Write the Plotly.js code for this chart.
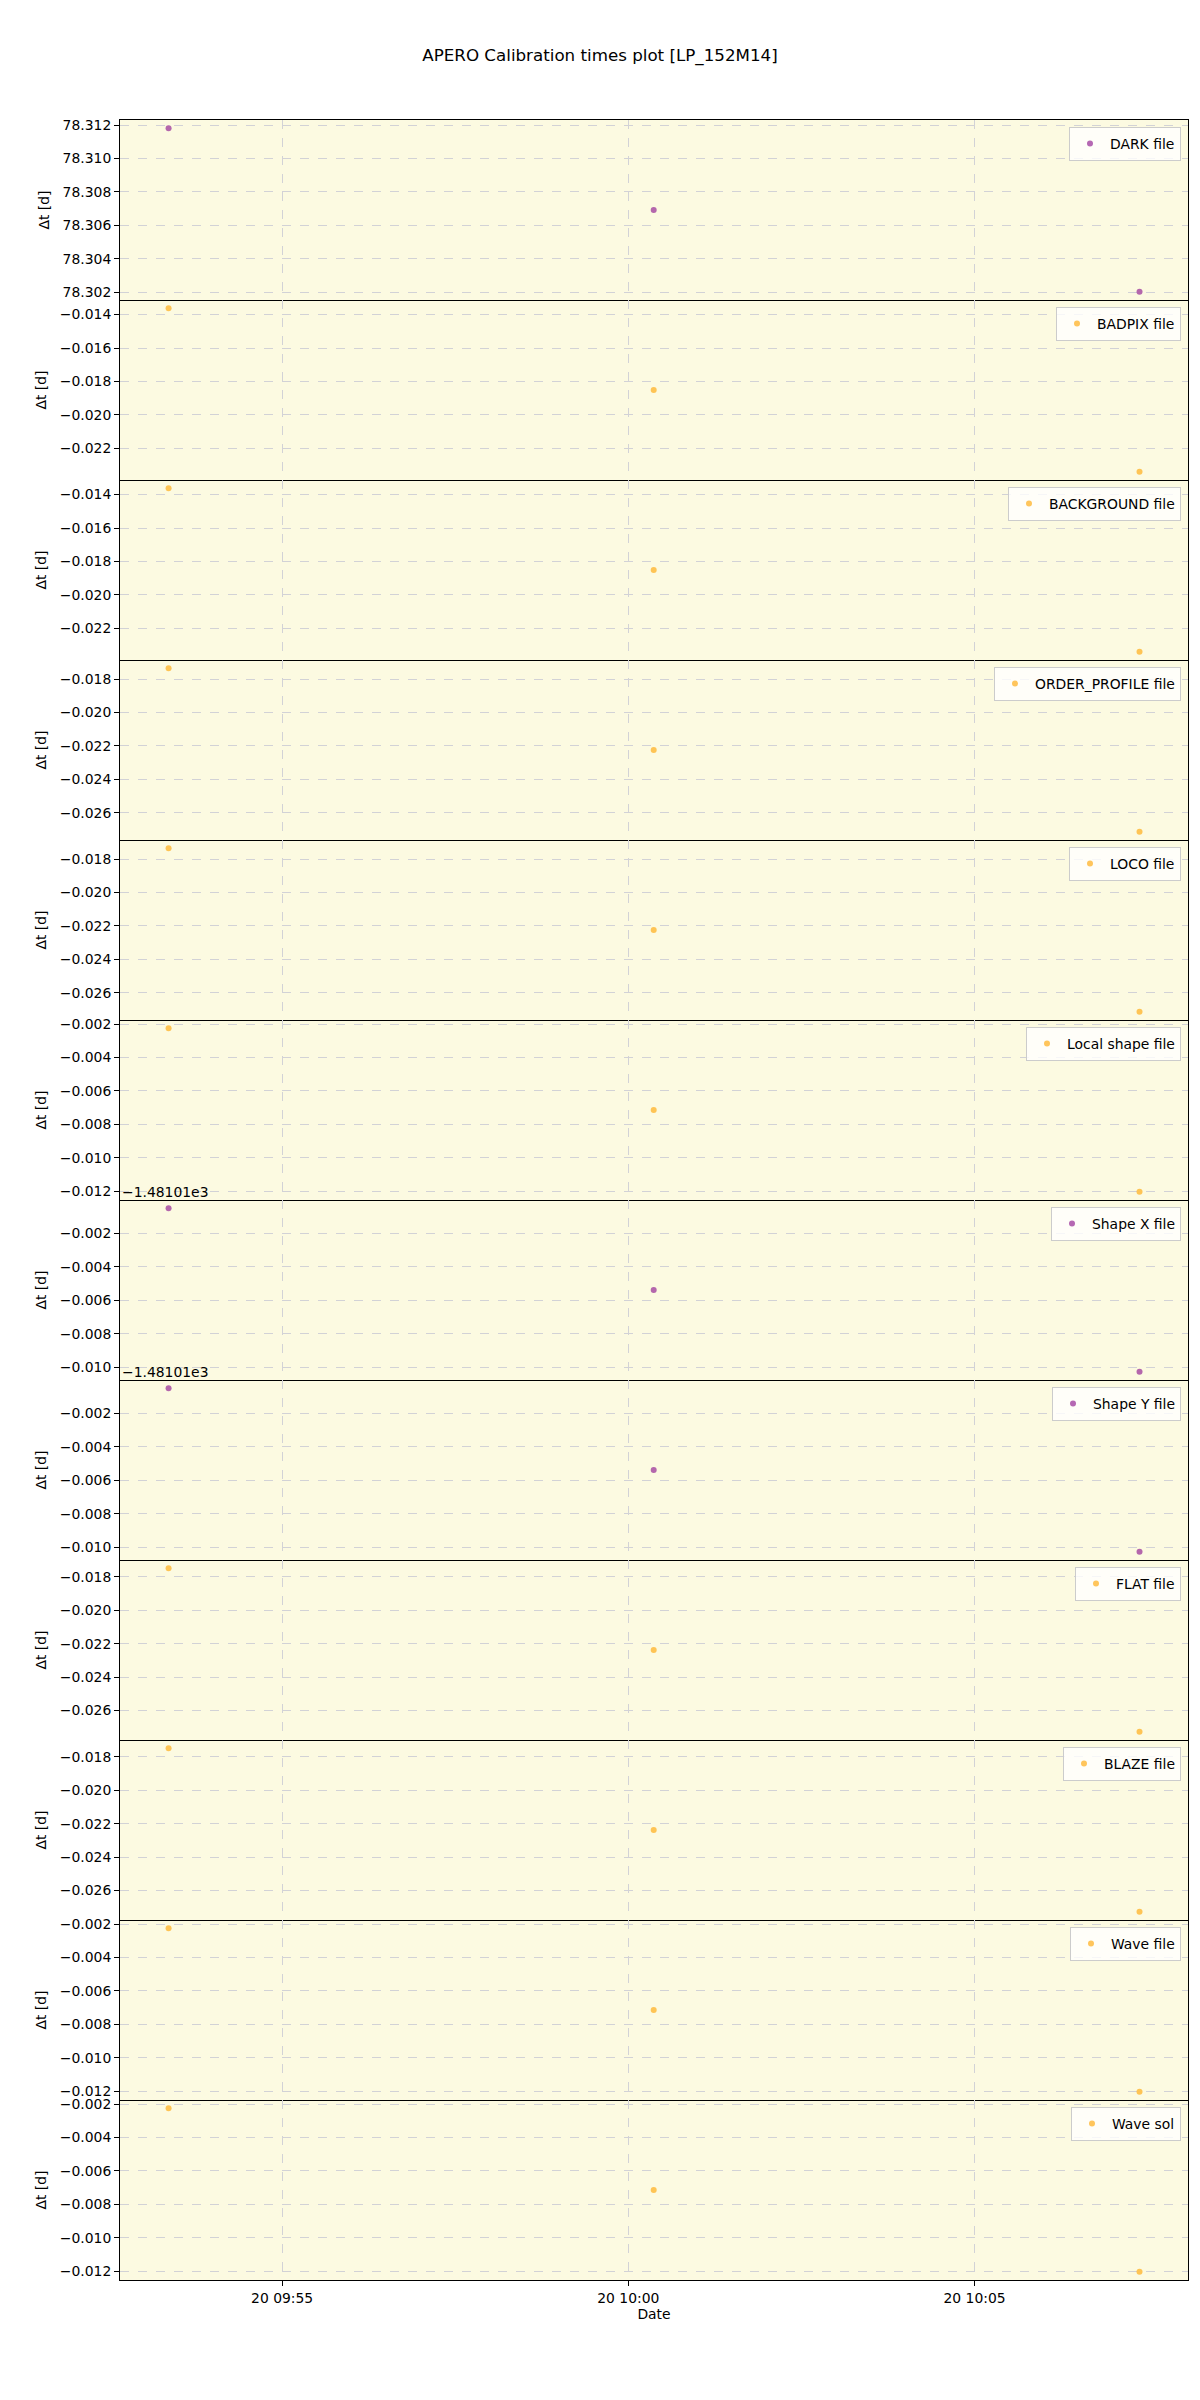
<!DOCTYPE html>
<html>
<head>
<meta charset="utf-8">
<script src="https://cdn.plot.ly/plotly-3.0.1.min.js"></script>
<style>html,body{margin:0;padding:0;background:#fff;}</style>
</head>
<body>
<div id="chart" style="width:1200px;height:2400px;"></div>
<script>
// ---- data ----
const times = ['2021-05-20 09:53:21.6', '2021-05-20 10:00:22', '2021-05-20 10:07:23'];
const seriesNames = ['DARK file', 'BADPIX file', 'BACKGROUND file', 'ORDER_PROFILE file', 'LOCO file',
  'Local shape file', 'Shape X file', 'Shape Y file', 'FLAT file', 'BLAZE file', 'Wave file', 'Wave sol'];
const darkFile = [78.31181, 78.30692, 78.30203];
const badpixFile = [-0.01362, -0.01851, -0.0234];
const backgroundFile = [-0.01362, -0.01851, -0.0234];
const orderProfileFile = [-0.01735, -0.02224, -0.02713];
const locoFile = [-0.01735, -0.02224, -0.02713];
const localShapeFile = [-0.00225, -0.00714, -0.01203];
const shapeXFile = [-1481.0105, -1481.01539, -1481.02028];
const shapeYFile = [-1481.0105, -1481.01539, -1481.02028];
const flatFile = [-0.01749, -0.02238, -0.02727];
const blazeFile = [-0.01749, -0.02238, -0.02727];
const waveFile = [-0.00225, -0.00714, -0.01203];
const waveSol = [-0.00225, -0.00714, -0.01203];
const seriesValues = [darkFile, badpixFile, backgroundFile, orderProfileFile, locoFile, localShapeFile,
  shapeXFile, shapeYFile, flatFile, blazeFile, waveFile, waveSol];
const seriesKinds = ['purple', 'orange', 'orange', 'orange', 'orange', 'orange',
  'purple', 'purple', 'orange', 'orange', 'orange', 'orange'];
// axis offsets shown as matplotlib offset text
const axisOffsets = [0, 0, 0, 0, 0, 0, -1481.01, -1481.01, 0, 0, 0, 0];
const offsetLabels = ['', '', '', '', '', '', '\u22121.48101e3', '\u22121.48101e3', '', '', '', ''];
const xRange = ['2021-05-20 09:52:39.5', '2021-05-20 10:08:05'];

// ---- styling ----
const colorMap = {purple: 'rgba(150,40,150,0.7)', orange: 'rgba(255,175,30,0.72)'};
const FS = 13.9;
const W = 1200, H = 2400;
const L = 120, R = 12, T = 120, B = 120;
const n = seriesNames.length;
const plotH = H - T - B;
const panelH = plotH / n;

const traces = [];
const layout = {
  width: W, height: H,
  margin: {l: L, r: R, t: T, b: B, pad: 0},
  paper_bgcolor: '#ffffff',
  plot_bgcolor: '#fcfae1',
  font: {family: 'DejaVu Sans', size: FS, color: '#000'},
  showlegend: true,
  title: {text: 'APERO Calibration times plot [LP_152M14]', font: {size: 16.7, family: 'DejaVu Sans'},
    x: 0.5, xref: 'container', xanchor: 'center', y: 1 - 55 / H, yref: 'container', yanchor: 'middle'},
  annotations: [],
  shapes: []
};

for (let i = 0; i < n; i++) {
  const k = i + 1;
  const xa = k === 1 ? 'xaxis' : 'xaxis' + k;
  const ya = k === 1 ? 'yaxis' : 'yaxis' + k;
  const xs = k === 1 ? 'x' : 'x' + k;
  const ys = k === 1 ? 'y' : 'y' + k;
  const lg = k === 1 ? 'legend' : 'legend' + k;
  const vals = seriesValues[i].map(v => v - axisOffsets[i]);
  const mn = Math.min(...vals), mx = Math.max(...vals);
  const pad = (mx - mn) * 0.05;
  const top = 1 - i / n, bot = 1 - (i + 1) / n;
  const isBottom = i === n - 1;

  traces.push({
    x: times, y: vals, type: 'scatter', mode: 'markers', name: seriesNames[i],
    xaxis: xs, yaxis: ys, legend: lg,
    marker: {size: 6, color: colorMap[seriesKinds[i]]},
    hoverinfo: 'skip'
  });

  layout[xa] = {
    type: 'date', range: xRange, anchor: ys, domain: [0, 1],
    showline: true, mirror: i === 0, linecolor: '#000', linewidth: 1,
    showgrid: true, gridcolor: '#d2d2d6', griddash: 'dash', gridwidth: 1,
    zeroline: false,
    tick0: '2021-05-20 09:55:00', dtick: 300000, tickformat: '%d %H:%M',
    ticks: isBottom ? 'outside' : '', ticklen: 5, tickcolor: '#000', tickwidth: 1,
    showticklabels: isBottom, tickfont: {size: FS},
  };
  if (i > 0) layout[xa].matches = 'x';
  if (isBottom) layout[xa].title = {text: 'Date', font: {size: FS}, standoff: 4};

  layout[ya] = {
    domain: [bot, top], anchor: xs, range: [mn - pad, mx + pad],
    showline: true, mirror: true, linecolor: '#000', linewidth: 1,
    showgrid: true, gridcolor: '#d2d2d6', griddash: 'dash', gridwidth: 1,
    zeroline: false, tick0: 0, dtick: 0.002, tickformat: '.3f',
    ticks: 'outside', ticklen: 5, tickcolor: '#000', tickwidth: 1,
    tickfont: {size: FS},
    title: {text: '\u0394t [d]', font: {size: FS}, standoff: 9}
  };

  layout[lg] = {
    x: 1 - 7 / (W - L - R), xanchor: 'right', xref: 'paper',
    y: 1 - (i * panelH + 7) / plotH, yanchor: 'top', yref: 'paper',
    bgcolor: 'rgba(255,255,255,0.8)', bordercolor: '#cccccc', borderwidth: 1,
    font: {size: FS}, itemwidth: 30
  };

  if (offsetLabels[i]) {
    layout.annotations.push({
      text: offsetLabels[i], xref: 'paper', yref: 'paper', x: 0, y: top,
      xanchor: 'left', yanchor: 'bottom', showarrow: false, font: {size: FS}, yshift: -2
    });
  }
}

Plotly.newPlot('chart', traces, layout, {staticPlot: true});
</script>
</body>
</html>
